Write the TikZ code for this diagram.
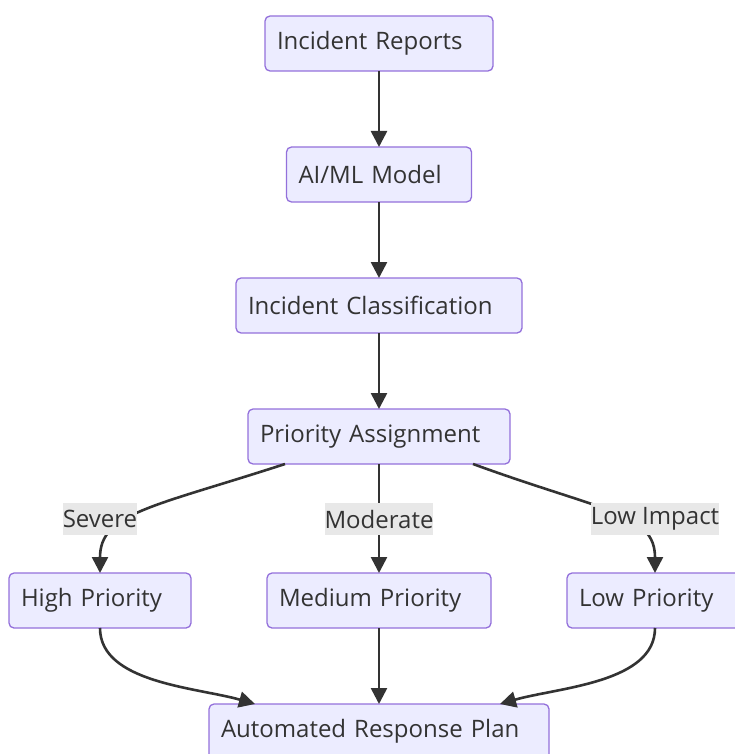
\documentclass[tikz,border=0pt]{standalone}
\usepackage{fontspec}
\setmainfont{Open Sans}
\usepackage{xcolor}
\usetikzlibrary{arrows.meta, positioning}
\definecolor{boxFill}{RGB}{236,236,255}
\definecolor{boxLine}{RGB}{147,112,219}
\definecolor{ink}{RGB}{51,51,51}
\definecolor{labelFill}{RGB}{232,232,232}
\tikzset{
  flowbox/.style={
    draw=boxLine,
    line width=1.3pt,
    rounded corners=5pt,
    fill=boxFill,
    text=ink,
    font=\fontsize{24}{29}\selectfont,
    minimum height=55pt,
    inner xsep=12pt,
    outer sep=0pt,
    align=left
  },
  edgelabel/.style={
    fill=labelFill,
    text=ink,
    font=\fontsize{24}{29}\selectfont,
    minimum height=32pt,
    inner xsep=0pt,
    inner ysep=0pt,
    outer sep=0pt
  },
  flow/.style={-{Triangle[length=16pt,width=16pt]}, line width=2.6pt, draw=ink}
}
\begin{document}
\begin{tikzpicture}[x=1pt, y=1pt, node distance=76pt]
  \useasboundingbox (0,0) rectangle (734,-754);

  \node[flowbox, text width=204pt] (reports) at (379,-43.5) {Incident Reports};
  \node[flowbox, text width=161pt, below=of reports] (model) {AI/ML Model};
  \node[flowbox, text width=262pt, below=of model] (classify) {Incident Classification};
  \node[flowbox, text width=238pt, below=of classify] (assign) {Priority Assignment};

  \node[flowbox, text width=200pt, below=109pt of assign] (medium) {Medium Priority};
  \node[flowbox, text width=158pt, left=of medium] (high) {High Priority};
  \node[flowbox, text width=152pt, right=of medium] (low) {Low Priority};
  \node[flowbox, text width=316pt, below=of medium] (plan) {Automated Response Plan};

  \draw[flow] (reports) -- (model);
  \draw[flow] (model) -- (classify);
  \draw[flow] (classify) -- (assign);
  \draw[flow] ([xshift=-94pt]assign.south) .. controls +(198:140pt) and +(90:60pt) .. (high.north);
  \draw[flow] (assign) -- (medium);
  \draw[flow] ([xshift=94pt]assign.south) .. controls +(-20:140pt) and +(90:60pt) .. (low.north);
  \draw[flow] (high.south) .. controls +(0,-55pt) and +(164:60pt) .. ([xshift=-124pt]plan.north);
  \draw[flow] (medium) -- (plan);
  \draw[flow] (low.south) .. controls +(0,-55pt) and +(16:60pt) .. ([xshift=121pt]plan.north);

  \node[edgelabel, above=38pt of high] (severe) {Severe};
  \node[edgelabel, above=38pt of medium] (moderate) {Moderate};
  \node[edgelabel, above=38pt of low] (lowimpact) {Low Impact};
\end{tikzpicture}
\end{document}
